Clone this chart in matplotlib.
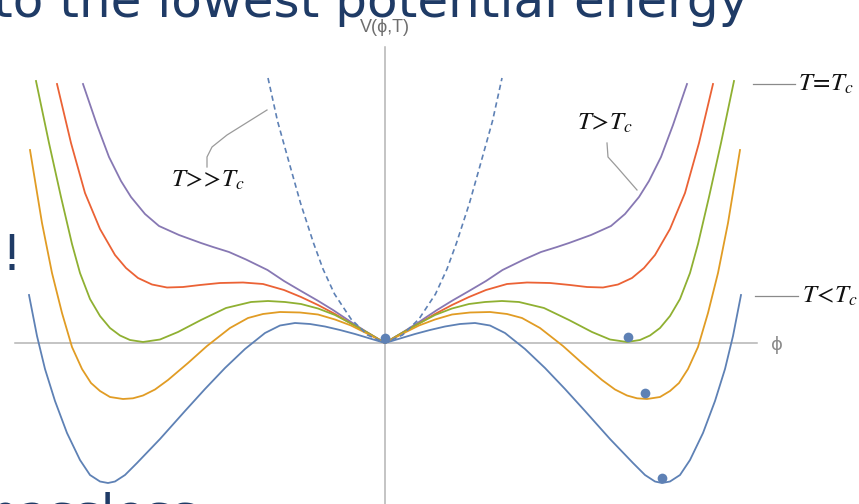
import matplotlib
matplotlib.use("Agg")
import numpy as np
import matplotlib.pyplot as plt

plt.rcParams["mathtext.fontset"] = "stix"

# Half profiles of V(phi, T) for phi >= 0 (the potential is even in phi).
# T < Tc
phi_lo = [0, 0.15, 0.30, 0.45, 0.60, 0.75, 0.90, 1.05, 1.20, 1.40, 1.60, 1.80,
          2.00, 2.25, 2.48, 2.60, 2.70, 2.77, 2.85, 2.95, 3.05, 3.18, 3.30, 3.40,
          3.48, 3.56]
V_lo = [0, 0.045, 0.09, 0.13, 0.165, 0.19, 0.20, 0.175, 0.10, -0.06, -0.25,
        -0.46, -0.68, -0.96, -1.20, -1.32, -1.385, -1.40, -1.385, -1.32, -1.17,
        -0.90, -0.58, -0.26, 0.07, 0.48]
# slightly below Tc
phi_mid = [0, 0.17, 0.34, 0.50, 0.67, 0.85, 1.05, 1.22, 1.37, 1.55, 1.78, 1.97,
           2.17, 2.30, 2.42, 2.52, 2.62, 2.75, 2.85, 2.94, 3.03, 3.13, 3.23,
           3.33, 3.43, 3.55]
V_mid = [0, 0.09, 0.175, 0.235, 0.285, 0.305, 0.31, 0.29, 0.25, 0.15, -0.03,
         -0.20, -0.37, -0.465, -0.525, -0.553, -0.56, -0.54, -0.48, -0.40,
         -0.26, -0.04, 0.30, 0.70, 1.20, 1.93]
# T = Tc
phi_c = [0, 0.17, 0.34, 0.50, 0.67, 0.84, 1.00, 1.17, 1.34, 1.59, 1.84, 2.07,
         2.25, 2.42, 2.55, 2.65, 2.75, 2.85, 2.95, 3.05, 3.13, 3.24, 3.36, 3.49]
V_c = [0, 0.10, 0.195, 0.28, 0.345, 0.39, 0.41, 0.42, 0.41, 0.35, 0.23, 0.11,
       0.035, 0.01, 0.03, 0.075, 0.15, 0.27, 0.44, 0.70, 0.99, 1.46, 2.00, 2.62]
# slightly above Tc
phi_up = [0, 0.17, 0.34, 0.50, 0.67, 0.84, 1.01, 1.22, 1.42, 1.65, 1.85, 2.02,
          2.18, 2.33, 2.47, 2.59, 2.70, 2.85, 3.00, 3.14, 3.28]
V_up = [0, 0.10, 0.195, 0.29, 0.38, 0.46, 0.53, 0.59, 0.605, 0.60, 0.58, 0.56,
        0.555, 0.585, 0.65, 0.75, 0.88, 1.14, 1.50, 2.00, 2.59]
# T > Tc
phi_hi = [0, 0.175, 0.34, 0.52, 0.675, 0.84, 1.01, 1.175, 1.39, 1.56, 1.72,
          1.84, 2.06, 2.26, 2.40, 2.54, 2.64, 2.76, 2.88, 3.02]
V_hi = [0, 0.105, 0.21, 0.33, 0.425, 0.52, 0.62, 0.73, 0.835, 0.91, 0.96, 1.00,
        1.08, 1.17, 1.29, 1.46, 1.62, 1.86, 2.18, 2.59]
# T >> Tc
phi_vhi = [0, 0.175, 0.34, 0.505, 0.62, 0.715, 0.845, 0.955, 1.075, 1.17]
V_vhi = [0, 0.08, 0.24, 0.49, 0.74, 1.00, 1.40, 1.79, 2.22, 2.65]

# vacuum positions marked with dots
dot_phi = [0, 2.43, 2.60, 2.77]
dot_V = [0.05, 0.06, -0.50, -1.35]

C_BLUE, C_ORANGE, C_GREEN, C_RED, C_PURPLE = (
    "#5E81B5", "#E19C24", "#8FB032", "#EB6235", "#8778B3")
NAVY = "#1F3B66"
AXIS_GRAY = "#B4B4B4"


def full(phi, v):
    p = np.asarray(phi, float)
    v = np.asarray(v, float)
    return np.r_[-p[::-1], p[1:]], np.r_[v[::-1], v[1:]]


fig = plt.figure(figsize=(8.59, 5.04), dpi=100)
ax = fig.add_axes([0, 0, 1, 1])
ax.set_xlim(-3.85, 4.74)
ax.set_ylim(-1.61, 3.43)
ax.axis("off")

# coordinate axes
ax.plot([-3.70, 3.72], [0, 0], color=AXIS_GRAY, lw=1.1, zorder=1)
ax.plot([0, 0], [-1.61, 2.96], color=AXIS_GRAY, lw=1.1, zorder=1)

for phi, v, col in [(phi_hi, V_hi, C_PURPLE), (phi_up, V_up, C_RED),
                    (phi_c, V_c, C_GREEN), (phi_mid, V_mid, C_ORANGE),
                    (phi_lo, V_lo, C_BLUE)]:
    x, y = full(phi, v)
    ax.plot(x, y, color=col, lw=1.3, solid_joinstyle="round", zorder=3)

x, y = full(phi_vhi, V_vhi)
ax.plot(x, y, color=C_BLUE, lw=1.2, ls=(0, (3.2, 2.2)), zorder=3)

ax.plot(dot_phi, dot_V, "o", color=C_BLUE, ms=7, mec="none", zorder=4)

# axis labels
ax.text(0, 3.16, "V(ϕ,T)", ha="center", va="center", fontsize=13,
        color="#6E6E6E", family="Liberation Sans")
ax.text(3.92, -0.02, "ϕ", ha="center", va="center", fontsize=13,
        color="#8A8A8A", family="DejaVu Sans")

# curve labels with leader lines
LEAD = "#9A9A9A"
lab = dict(fontsize=18, color="#111111", va="center")
ax.plot([3.68, 4.10], [2.59, 2.59], color="#8A8A8A", lw=0.9)
ax.text(4.13, 2.59, r"$T\!=\!T_c$", ha="left", **lab)
ax.plot([3.70, 4.13], [0.47, 0.47], color="#8A8A8A", lw=0.9)
ax.text(4.17, 0.47, r"$T\!<\!T_c$", ha="left", **lab)

ax.text(2.20, 2.20, r"$T\!>\!T_c$", ha="center", **lab)
ax.plot([2.22, 2.23, 2.32, 2.52], [2.00, 1.86, 1.76, 1.53], color=LEAD, lw=0.9)

ax.text(-1.77, 1.63, r"$T\!>\!\!>\!T_c$", ha="center", **lab)
ax.plot([-1.78, -1.78, -1.73, -1.58, -1.18], [1.76, 1.86, 1.96, 2.08, 2.33],
        color=LEAD, lw=0.9)

# surrounding slide text
fig.text(748 / 859, 1 - 17 / 504, "to the lowest potential energy", ha="right",
         va="baseline", fontsize=36, color=NAVY, family="DejaVu Sans")
fig.text(1.5 / 859, 1 - 270 / 504, "!", ha="left", va="baseline", fontsize=36,
         color=NAVY, family="DejaVu Sans")
fig.text(-30 / 859, 1 - 529 / 504, "massless", ha="left", va="baseline",
         fontsize=36, color=NAVY, family="DejaVu Sans")

fig.savefig("out.png", dpi=100, facecolor="white")
